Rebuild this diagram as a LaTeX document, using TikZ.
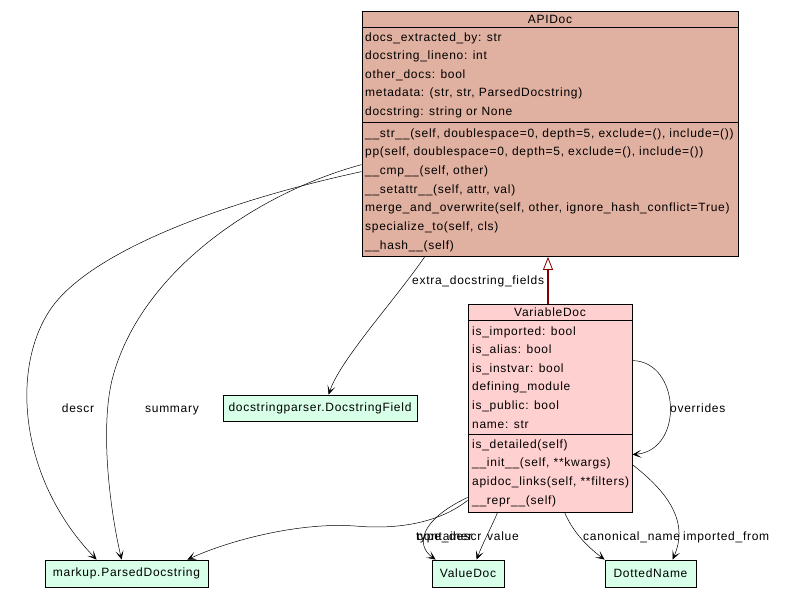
\documentclass[tikz,border=0pt]{standalone}
\usepackage{fontspec}
\setmainfont{Liberation Sans}[LetterSpace=6]
\usetikzlibrary{arrows.meta,calc}
\definecolor{basebg}{HTML}{E0B0A0}
\definecolor{selbg}{HTML}{FFD0D0}
\definecolor{classbg}{HTML}{D8FFE8}
\definecolor{inhcol}{HTML}{800000}
\begin{document}
\begin{tikzpicture}[x=1pt,y=-1pt, font=\fontsize{12}{14}\selectfont,
  box/.style={draw=black, line width=0.8pt, inner sep=0pt},
  row/.style={anchor=west, inner sep=0pt, text height=10.5pt, text depth=2.5pt},
  lbl/.style={inner sep=0pt, text height=10.5pt, text depth=2.5pt},
  ref/.style={-{Stealth[length=9pt,width=8pt,inset=5pt]}, line width=0.5pt},
  inh/.style={-{Triangle[open,fill=white,line width=0.8pt,length=13pt,width=10pt]}, draw=inhcol, line width=2pt},
  sep/.style={line width=0.8pt}]
\useasboundingbox (0,0) rectangle (809,597);
% APIDoc
\node[box, fill=basebg, minimum width=376pt, minimum height=245pt] (api) at (550,134) {};
\draw[sep] ($(api.north west)+(0,16.5)$) -- ($(api.north east)+(0,16.5)$);
\draw[sep] ($(api.north west)+(0,111.5)$) -- ($(api.north east)+(0,111.5)$);
\node[lbl] (apititle) at (550,19.5) {APIDoc};
\foreach \t [count=\i from 0] in {{docs\_extracted\_by: str},{docstring\_lineno: int},{other\_docs: bool},{metadata: (str, str, ParsedDocstring)},{docstring: string or None}}
  \node[row] (apia\i) at (365,37+18.5*\i) {\t};
\foreach \t [count=\i from 0] in {{\_\_str\_\_(self, doublespace=0, depth=5, exclude=(), include=())},{pp(self, doublespace=0, depth=5, exclude=(), include=())},{\_\_cmp\_\_(self, other)},{\_\_setattr\_\_(self, attr, val)},{merge\_and\_overwrite(self, other, ignore\_hash\_conflict=True)},{specialize\_to(self, cls)},{\_\_hash\_\_(self)}}
  \node[row] (apim\i) at (365,133+18.67*\i) {\t};
% VariableDoc
\node[box, fill=selbg, minimum width=164pt, minimum height=208pt] (var) at (550,408) {};
\draw[sep] ($(var.north west)+(0,17)$) -- ($(var.north east)+(0,17)$);
\draw[sep] ($(var.north west)+(0,131)$) -- ($(var.north east)+(0,131)$);
\node[lbl] (vartitle) at (550,312) {VariableDoc};
\foreach \t [count=\i from 0] in {{is\_imported: bool},{is\_alias: bool},{is\_instvar: bool},{defining\_module},{is\_public: bool},{name: str}}
  \node[row] (vara\i) at (472,331+18.6*\i) {\t};
\foreach \t [count=\i from 0] in {{is\_detailed(self)},{\_\_init\_\_(self, **kwargs)},{apidoc\_links(self, **filters)},{\_\_repr\_\_(self)}}
  \node[row] (varm\i) at (472,444+18.7*\i) {\t};
% other classes
\node[box, fill=classbg, minimum width=194pt, minimum height=26pt] (dsf) at (320,408) {docstringparser.DocstringField};
\node[box, fill=classbg, minimum width=163pt, minimum height=27pt] (pds) at (126.5,573.5) {markup.ParsedDocstring};
\node[box, fill=classbg, minimum width=72pt, minimum height=27pt] (vd) at (468,573.5) {ValueDoc};
\node[box, fill=classbg, minimum width=91pt, minimum height=27pt] (dn) at (650.5,573.5) {DottedName};
% inheritance
\draw[inh] ($(var.north)+(-2,0)$) -- ($(api.south)+(-2,0)$);
% references
\draw[ref] ($(api.north west)+(0,153.5)$) .. controls (260,192) and (140,270) .. (112,380) .. controls (100,430) and (110,510) .. ($(pds.north west)+(77,0)$);
\draw[ref] ($(api.north west)+(0,160.5)$) .. controls (230,200) and (90,250) .. (50,310) .. controls (10,370) and (20,480) .. ($(pds.north west)+(52,0)$);
\draw[ref] ($(api.south west)+(63,0)$) .. controls (395,300) and (340,360) .. ($(dsf.north west)+(106,0)$);
\draw[ref] ($(var.north east)+(0,57)$) .. controls (680,361) and (685,450) .. ($(var.north east)+(0,151)$);
\draw[ref] ($(var.south west)+(97,0)$) .. controls (572,530) and (585,545) .. (dn.north west);
\draw[ref] ($(var.north east)+(0,161)$) .. controls (665,490) and (690,520) .. ($(dn.north west)+(68,0)$);
\draw[ref] ($(var.south west)+(30,0)$) .. controls (490,530) and (482,545) .. ($(vd.north west)+(45,0)$);
\draw[ref] ($(var.south west)+(0,-15)$) .. controls (420,520) and (415,545) .. ($(vd.north west)+(4,0)$);
\draw[ref] ($(var.south west)+(0,-12)$) .. controls (440,522) and (400,530) .. (355,526) .. controls (300,522) and (230,540) .. ($(pds.north east)+(-21,0)$);
% labels
\node[lbl] (ldescr) at (78,408) {descr};
\node[lbl] (lsummary) at (172,408) {summary};
\node[lbl, anchor=west] (lextra) at (412,280) {extra\_docstring\_fields};
\node[lbl, anchor=west] (loverrides) at (670,408) {overrides};
\node[lbl, anchor=west] (lcanon) at (583,536) {canonical\_name};
\node[lbl, anchor=west] (limported) at (683,536) {imported\_from};
\node[lbl, anchor=west] (lvalue) at (487,536) {value};
\node[lbl, anchor=west] (ltype) at (416,536) {type\_descr};
\node[lbl, anchor=west] (lcont) at (417,536) {container};
\end{tikzpicture}
\end{document}
